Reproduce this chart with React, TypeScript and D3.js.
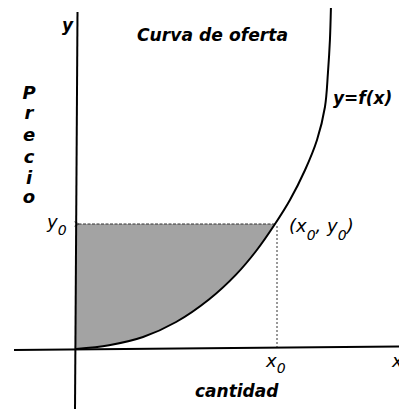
import React from "react";
import * as d3 from "d3";

// Supply curve y = f(x), sampled in units where the marked point is (1, 1)
const curveX = [0, 0.166, 0.337, 0.503, 0.668, 0.804, 0.905, 1.0, 1.075, 1.151, 1.211, 1.251, 1.266, 1.276, 1.281];
const curveY = [0, 0.03, 0.096, 0.216, 0.396, 0.595, 0.784, 1.0, 1.192, 1.432, 1.672, 1.936, 2.208, 2.472, 2.728];

// Marked point (x0, y0)
const pointX = [1];
const pointY = [1];

const titleText = "Curva de oferta";
const yAxisWord = ["P", "r", "e", "c", "i", "o"];
const xAxisWord = "cantidad";
const curveLabel = "y=f(x)";

const W = 399;
const H = 409;
const FONT = "'DejaVu Sans', Verdana, sans-serif";

export default function App() {
  const x = d3.scaleLinear().domain([0, 1]).range([76, 275]);
  const y = d3.scaleLinear().domain([0, 1]).range([349, 224]);

  const pts: [number, number][] = curveX.map((v, i) => [v, curveY[i]]);
  const x0 = pointX[0];
  const y0 = pointY[0];

  const line = d3
    .line<[number, number]>()
    .x((d) => x(d[0]))
    .y((d) => y(d[1]))
    .curve(d3.curveCatmullRom.alpha(0.5));

  // shaded region: between the price axis, the y0 level and the curve
  const lower = pts.filter((p) => p[0] <= x0);
  const shade = line(lower)! + `L${x(0)},${y(y0)}Z`;

  return (
    <svg
      width={W}
      height={H}
      style={{ position: "absolute", left: 0, top: 0, background: "#fff" }}
      fontFamily={FONT}
    >
      <defs>
        <marker id="arr" viewBox="0 0 8 8" refX="1" refY="4" markerWidth="6" markerHeight="6" orient="auto">
          <path d="M7,1 L1,4 L7,7" fill="none" stroke="#333" strokeWidth="1.2" />
        </marker>
      </defs>

      {/* shaded area */}
      <path d={shade} fill="#a3a3a3" stroke="none" />

      {/* guides to the point */}
      <line
        x1={x(x0)}
        y1={y(y0)}
        x2={x(0) + 3}
        y2={y(y0)}
        stroke="#333"
        strokeWidth={1}
        strokeDasharray="3,1.5"
        markerEnd="url(#arr)"
      />
      <line
        x1={x(x0) + 2}
        y1={y(y0) + 2}
        x2={x(x0) + 2}
        y2={y(0)}
        stroke="#333"
        strokeWidth={1}
        strokeDasharray="2,2"
      />

      {/* axes */}
      <line x1={14} y1={350} x2={399} y2={346.5} stroke="#000" strokeWidth={2} />
      <line x1={77.5} y1={12} x2={75} y2={409} stroke="#000" strokeWidth={2} />

      {/* supply curve */}
      <path d={line(pts)!} fill="none" stroke="#000" strokeWidth={2} />

      {/* labels */}
      <g fontStyle="italic" fontWeight="bold" fill="#000">
        <text x={62} y={31} fontSize={17}>y</text>
        <text x={137} y={41} fontSize={17} textLength={151} lengthAdjust="spacingAndGlyphs">
          {titleText}
        </text>
        {yAxisWord.map((c, i) => (
          <text key={i} x={29} y={[99, 119, 141, 163, 184, 203][i]} fontSize={18} textAnchor="middle">
            {c}
          </text>
        ))}
        <text x={333} y={104} fontSize={17}>{curveLabel}</text>
        <text x={195} y={397} fontSize={17}>{xAxisWord}</text>
      </g>

      <g fontStyle="italic" fill="#000">
        <text x={47} y={228} fontSize={18}>
          y<tspan fontSize={14} dy={7}>0</tspan>
        </text>
        <text x={289} y={232} fontSize={18}>
          (x<tspan fontSize={14} dy={8}>0</tspan>
          <tspan dy={-8}>, y</tspan>
          <tspan fontSize={14} dy={8}>0</tspan>
          <tspan dy={-8}>)</tspan>
        </text>
        <text x={266} y={367} fontSize={18}>
          x<tspan fontSize={14} dy={6}>0</tspan>
        </text>
        <text x={392} y={367} fontSize={18}>x</text>
      </g>
    </svg>
  );
}
